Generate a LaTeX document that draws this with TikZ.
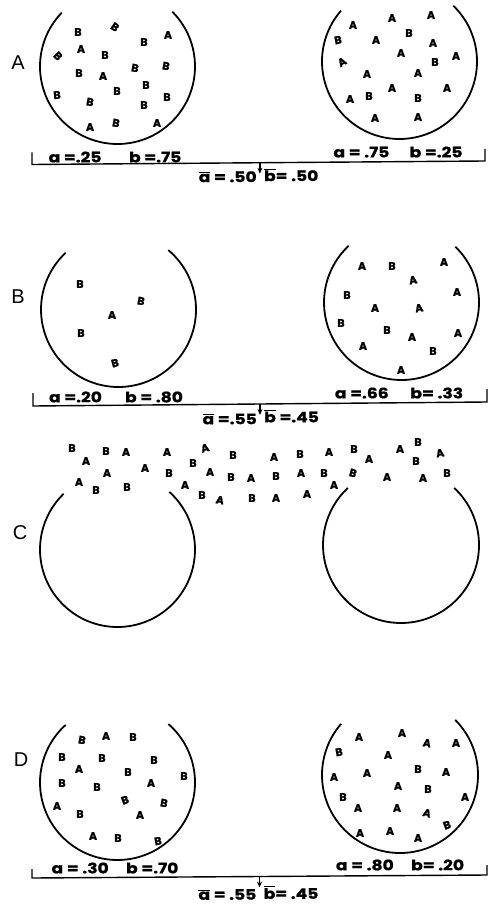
\documentclass[tikz,border=0pt]{standalone}
\usepackage{fontspec}
\setmainfont{Liberation Sans}
\newfontfamily\labfont{Poppins}[FakeStretch=1.18, BoldFeatures={FakeBold=0.8}]
\newfontfamily\scatfont{Poppins}[BoldFeatures={FakeBold=1.4}]
\usetikzlibrary{arrows.meta,calc}
\newcommand\ovl[1]{\ensuremath{\overline{\hbox{#1}}}}
% bowl: centre x, centre y, radius, right gap angle, left gap angle
\newcommand\drawbowl[5]{\draw[bowl] (#1,#2) ++(#4:#3pt) arc[start angle=#4, end angle=#5-360, radius=#3pt];}
\begin{document}
\begin{tikzpicture}[x=1pt,y=-1pt,
  bowl/.style={line width=1.8pt},
  bracket/.style={line width=1.4pt},
  panel/.style={font=\fontsize{20}{20}\selectfont, inner sep=0pt},
  ltr/.style={font=\fontsize{11}{11}\selectfont\scatfont\bfseries, inner sep=0pt},
  frac/.style={font=\fontsize{14.5}{14.5}\selectfont\labfont\bfseries, inner sep=0pt},
  meanarrow/.style={line width=1.3pt, -{Stealth[length=6pt,width=5pt]}}
]
\useasboundingbox (0,0) rectangle (489,904);
\fill[white] (0,0) rectangle (489,904);

% panel letters
\node[panel] (pA) at (18,63) {A};
\node[panel] (pB) at (18,297) {B};
\node[panel] (pC) at (20,533) {C};
\node[panel] (pD) at (21,760) {D};

% bowls
\drawbowl{117.5}{66.5}{77.5}{45}{136}
\drawbowl{399.5}{61.5}{77.5}{46}{139}
\drawbowl{118.5}{309.5}{77.5}{50}{133}
\drawbowl{401.5}{302.5}{77.5}{46}{133}
\drawbowl{117.5}{549.5}{77.5}{48}{134}
\drawbowl{401}{545}{78}{47}{133}
\drawbowl{117.5}{782.5}{77.5}{49}{132}
\drawbowl{400}{775}{78}{45}{139}

% scattered letters
\foreach \x/\y/\t/\r [count=\i] in {78/32/B/0, 115/27/B/-35, 144/42/B/0, 168/35/A/0, 81/49/A/0, 58/56/B/-45, 105/55/B/0, 135/68/B/-10, 166/66/B/-10, 79/73/B/0, 103/76/A/0, 146/85/B/0, 117/91/B/0, 57/95/B/5, 90/102/B/-10, 144/105/B/0, 167/97/B/0, 90/127/A/0, 116/123/B/-10, 157/123/A/0}
  {\node[ltr, rotate=\r] (al\i) at (\x,\y) {\t};}
\foreach \x/\y/\t/\r [count=\i] in {353/25/A/0, 392/18/A/0, 431/15/A/0, 338/40/B/10, 376/40/A/0, 409/33/B/0, 433/43/A/0, 342/62/A/30, 401/53/A/0, 435/62/B/0, 456/56/A/0, 367/74/A/0, 418/73/A/0, 392/88/A/0, 447/88/A/0, 350/99/A/0, 369/96/B/0, 418/98/B/0, 375/118/A/0, 418/117/A/0}
  {\node[ltr, rotate=\r] (ar\i) at (\x,\y) {\t};}
\foreach \x/\y/\t/\r [count=\i] in {80/284/B/0, 141/301/B/-10, 112/315/A/0, 81/333/B/0, 115/363/B/15}
  {\node[ltr, rotate=\r] (bl\i) at (\x,\y) {\t};}
\foreach \x/\y/\t/\r [count=\i] in {362/266/A/0, 392/266/B/0, 444/262/A/0, 413/280/A/10, 347/295/B/0, 457/292/A/0, 375/308/A/0, 419/308/A/10, 341/323/B/0, 387/330/B/0, 412/337/A/0, 458/333/A/0, 363/346/A/0, 433/351/B/0, 401/370/A/0}
  {\node[ltr, rotate=\r] (br\i) at (\x,\y) {\t};}
\foreach \x/\y/\t/\r [count=\i] in {126/452/A/0, 86/461/A/0, 107/473/A/0, 145/468/A/0, 167/452/A/0, 205/448/A/15, 79/482/A/0, 210/472/A/0, 185/485/A/0, 220/500/A/-10, 274/457/A/0, 329/452/A/0, 369/459/A/0, 251/478/A/0, 301/473/A/0, 334/485/A/0, 276/498/A/0, 307/494/A/0, 400/449/A/0, 440/453/A/10, 387/477/A/0, 423/478/A/0, 72/448/B/0, 106/451/B/0, 193/463/B/0, 233/455/B/0, 96/490/B/0, 127/487/B/0, 169/473/B/0, 231/477/B/0, 202/495/B/0, 300/454/B/0, 354/449/B/0, 276/476/B/0, 324/473/B/0, 353/473/B/-15, 252/498/B/0, 418/442/B/0, 416/461/B/0, 447/473/B/0}
  {\node[ltr, rotate=\r] (c\i) at (\x,\y) {\t};}
\foreach \x/\y/\t/\r [count=\i] in {82/740/B/-10, 106/736/A/0, 133/737/B/0, 62/757/B/0, 102/758/B/0, 154/760/B/0, 79/769/A/0, 128/772/B/0, 184/776/B/0, 62/783/B/0, 97/787/B/0, 151/783/A/0, 125/800/B/20, 164/803/B/-10, 57/806/A/0, 80/814/B/0, 140/815/A/0, 93/836/A/0, 118/838/B/0, 158/841/B/10}
  {\node[ltr, rotate=\r] (dl\i) at (\x,\y) {\t};}
\foreach \x/\y/\t/\r [count=\i] in {359/737/A/0, 402/733/A/0, 427/743/A/-10, 456/743/A/0, 339/752/B/10, 388/755/A/0, 334/777/A/0, 367/773/A/0, 418/769/B/0, 446/772/A/0, 398/786/A/0, 428/789/B/0, 343/797/B/0, 465/797/A/0, 358/808/A/0, 397/808/A/0, 427/813/A/-15, 447/825/B/20, 360/833/A/0, 390/831/A/0, 418/838/A/0}
  {\node[ltr, rotate=\r] (dr\i) at (\x,\y) {\t};}

% brackets
\coordinate (Al) at (32,164.5); \coordinate (Ar) at (485,161);
\coordinate (Alt) at (32,152.5); \coordinate (Art) at (485,149);
\draw[bracket] (Alt) -- (Al) -- (Ar) -- (Art);
\coordinate (Bl) at (33,406); \coordinate (Br) at (487,402);
\coordinate (Blt) at (33,393); \coordinate (Brt) at (487,389);
\draw[bracket] (Blt) -- (Bl) -- (Br) -- (Brt);
\coordinate (Dl) at (32,878); \coordinate (Dr) at (487,875);
\coordinate (Dlt) at (32,869); \coordinate (Drt) at (487,865);
\draw[bracket] (Dlt) -- (Dl) -- (Dr) -- (Drt);

% fraction labels
\node[frac] (fAl) at (115,157) {a =.25\hspace{1.9em}b =.75};
\node[frac] (fAr) at (398,152) {a = .75\hspace{1.4em}b =.25};
\node[frac] (fBl) at (116,397) {a =.20\hspace{1.6em}b = .80};
\node[frac] (fBr) at (399,393) {a =.66\hspace{1.5em}b= .33};
\node[frac] (fDl) at (115,868) {a = .30\hspace{1.2em}b =.70};
\node[frac] (fDr) at (400,865) {a = .80\hspace{1.2em}b= .20};

% mean labels with arrows
\coordinate (mA) at ($(Al)!0.503!(Ar)$);
\coordinate (mAe) at ($(mA)+(0,11)$);
\draw[meanarrow] (mA) -- (mAe);
\node[frac, anchor=east] (mAa) at ($(mA)+(-3,14)$) {\ovl{a} = .50};
\node[frac, anchor=west] (mAb) at ($(mA)+(4,12)$) {\ovl{b}= .50};

\coordinate (mB) at ($(Bl)!0.5!(Br)$);
\coordinate (mBe) at ($(mB)+(0,11)$);
\draw[meanarrow] (mB) -- (mBe);
\node[frac, anchor=east] (mBa) at ($(mB)+(-3,15)$) {\ovl{a} =.55};
\node[frac, anchor=west] (mBb) at ($(mB)+(4,12)$) {\ovl{b} =.45};

\coordinate (mD) at ($(Dl)!0.5!(Dr)$);
\coordinate (mDe) at ($(mD)+(0,11)$);
\draw[meanarrow] (mD) -- (mDe);
\node[frac, anchor=east] (mDa) at ($(mD)+(-3,18)$) {\ovl{a} = .55};
\node[frac, anchor=west] (mDb) at ($(mD)+(4,16)$) {\ovl{b}= .45};
\end{tikzpicture}
\end{document}
